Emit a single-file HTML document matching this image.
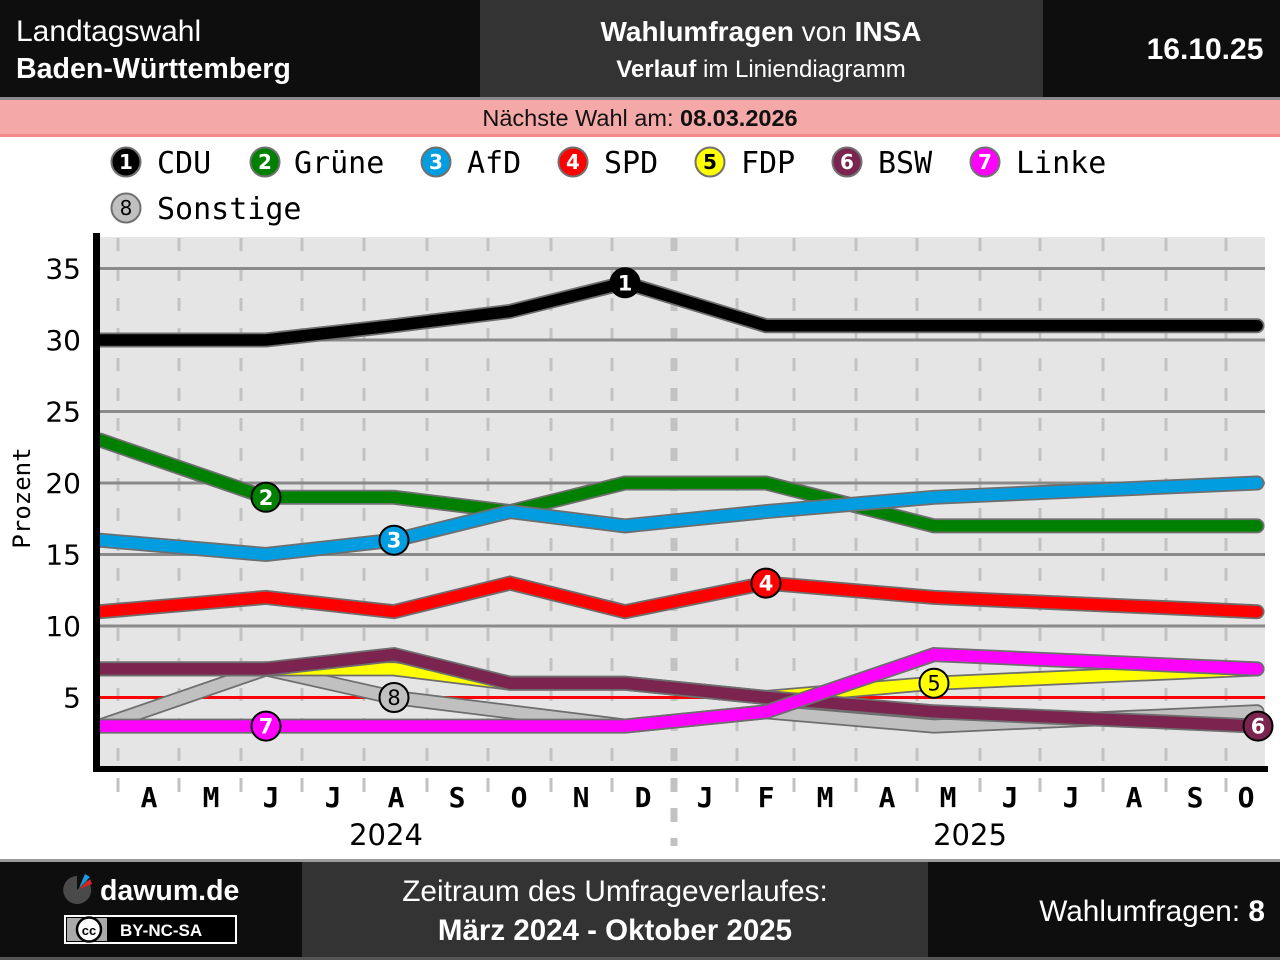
<!DOCTYPE html>
<html><head><meta charset="utf-8">
<style>
html,body{margin:0;padding:0;background:#fff;}
svg{display:block;}
.sans{font-family:"Liberation Sans",Arial,sans-serif;}
.mono{font-family:"DejaVu Sans Mono","Liberation Mono",monospace;}
.dv{font-family:"DejaVu Sans","Liberation Sans",sans-serif;}
</style></head>
<body>
<svg width="1280" height="960" viewBox="0 0 1280 960" xmlns="http://www.w3.org/2000/svg">
<defs>
<clipPath id="pc"><rect x="100" y="237" width="1170" height="532"/></clipPath>
</defs>
<!-- header -->
<rect x="0" y="0" width="1280" height="97" fill="#0e0e0e"/>
<rect x="480" y="0" width="563" height="97" fill="#333333"/>
<rect x="0" y="97" width="1280" height="3" fill="#8a8a8a"/>
<rect x="0" y="100" width="1280" height="35" fill="#f4a8a8"/>
<rect x="0" y="134" width="1280" height="3" fill="#f28888"/>
<g class="sans" fill="#fff">
<text x="16" y="41" font-size="30">Landtagswahl</text>
<text x="16" y="78" font-size="28.6" font-weight="bold">Baden-Württemberg</text>
<text x="761" y="41" font-size="28" text-anchor="middle"><tspan font-weight="bold">Wahlumfragen</tspan> von <tspan font-weight="bold">INSA</tspan></text>
<text x="761" y="77" font-size="24" text-anchor="middle"><tspan font-weight="bold">Verlauf</tspan> im Liniendiagramm</text>
<text x="1205" y="59" font-size="30" font-weight="bold" text-anchor="middle">16.10.25</text>
</g>
<text class="sans" x="640" y="126" font-size="23.5" text-anchor="middle" fill="#111">Nächste Wahl am: <tspan font-weight="bold">08.03.2026</tspan></text>

<!-- legend -->
<g class="mono" font-size="30" fill="#000">
<g stroke="#707070" stroke-width="2">
<circle cx="126" cy="162" r="14.5" fill="#000"/>
<circle cx="265" cy="162" r="14.5" fill="#008000"/>
<circle cx="436" cy="162" r="14.5" fill="#009ee0"/>
<circle cx="573" cy="162" r="14.5" fill="#ff0000"/>
<circle cx="710" cy="162" r="14.5" fill="#ffff00"/>
<circle cx="847" cy="162" r="14.5" fill="#7b2450"/>
<circle cx="985" cy="162" r="14.5" fill="#ff00ff"/>
<circle cx="126" cy="208" r="14.5" fill="#c0c0c0"/>
</g>
<g class="dv" font-size="20" font-weight="bold" text-anchor="middle">
<text x="126" y="169" fill="#fff">1</text>
<text x="265" y="169" fill="#fff">2</text>
<text x="436" y="169" fill="#fff">3</text>
<text x="573" y="169" fill="#fff">4</text>
<text x="710" y="169" fill="#000">5</text>
<text x="847" y="169" fill="#fff">6</text>
<text x="985" y="169" fill="#fff">7</text>
<text x="126" y="215" fill="#000" font-weight="normal">8</text>
</g>
<text x="157" y="173">CDU</text>
<text x="294" y="173">Grüne</text>
<text x="467" y="173">AfD</text>
<text x="604" y="173">SPD</text>
<text x="741" y="173">FDP</text>
<text x="878" y="173">BSW</text>
<text x="1016" y="173">Linke</text>
<text x="157" y="219">Sonstige</text>
</g>

<!-- plot background -->
<rect x="100" y="237" width="1165" height="532" fill="#e5e5e5"/>
<!-- vertical dashed month lines -->
<g stroke="#c2c2c2" stroke-width="3" stroke-dasharray="13 17">
<line x1="118" y1="238" x2="118" y2="768"/>
<line x1="179" y1="238" x2="179" y2="768"/>
<line x1="241" y1="238" x2="241" y2="768"/>
<line x1="302" y1="238" x2="302" y2="768"/>
<line x1="364" y1="238" x2="364" y2="768"/>
<line x1="427" y1="238" x2="427" y2="768"/>
<line x1="488" y1="238" x2="488" y2="768"/>
<line x1="551" y1="238" x2="551" y2="768"/>
<line x1="612" y1="238" x2="612" y2="768"/>
<line x1="737" y1="238" x2="737" y2="768"/>
<line x1="794" y1="238" x2="794" y2="768"/>
<line x1="856" y1="238" x2="856" y2="768"/>
<line x1="917" y1="238" x2="917" y2="768"/>
<line x1="980" y1="238" x2="980" y2="768"/>
<line x1="1040" y1="238" x2="1040" y2="768"/>
<line x1="1103" y1="238" x2="1103" y2="768"/>
<line x1="1166" y1="238" x2="1166" y2="768"/>
<line x1="1226" y1="238" x2="1226" y2="768"/>
<line x1="674" y1="238" x2="674" y2="768" stroke-width="7"/>
</g>
<!-- ticks below axis -->
<g stroke="#c2c2c2" stroke-width="3">
<line x1="118" y1="778" x2="118" y2="792"/>
<line x1="179" y1="778" x2="179" y2="792"/>
<line x1="241" y1="778" x2="241" y2="792"/>
<line x1="302" y1="778" x2="302" y2="792"/>
<line x1="364" y1="778" x2="364" y2="792"/>
<line x1="427" y1="778" x2="427" y2="792"/>
<line x1="488" y1="778" x2="488" y2="792"/>
<line x1="551" y1="778" x2="551" y2="792"/>
<line x1="612" y1="778" x2="612" y2="792"/>
<line x1="737" y1="778" x2="737" y2="792"/>
<line x1="794" y1="778" x2="794" y2="792"/>
<line x1="856" y1="778" x2="856" y2="792"/>
<line x1="917" y1="778" x2="917" y2="792"/>
<line x1="980" y1="778" x2="980" y2="792"/>
<line x1="1040" y1="778" x2="1040" y2="792"/>
<line x1="1103" y1="778" x2="1103" y2="792"/>
<line x1="1166" y1="778" x2="1166" y2="792"/>
<line x1="1226" y1="778" x2="1226" y2="792"/>
<line x1="674" y1="778" x2="674" y2="846" stroke-width="7" stroke-dasharray="14 16"/>
</g>
<!-- horizontal grid -->
<g stroke="#8a8a8a" stroke-width="3">
<line x1="100" y1="268.5" x2="1265" y2="268.5"/>
<line x1="100" y1="340" x2="1265" y2="340"/>
<line x1="100" y1="411.5" x2="1265" y2="411.5"/>
<line x1="100" y1="483" x2="1265" y2="483"/>
<line x1="100" y1="554.5" x2="1265" y2="554.5"/>
<line x1="100" y1="626" x2="1265" y2="626"/>
</g>
<line x1="100" y1="697.5" x2="1265" y2="697.5" stroke="#ff0000" stroke-width="3"/>

<!-- series -->
<g clip-path="url(#pc)" fill="none" stroke-linejoin="miter" stroke-linecap="round">
<polyline points="100,726.1 266,668.9 394,697.5 510,711.8 625,726.1 766,711.8 934,726.1 1257,711.8" stroke="#6e6e6e" stroke-width="15"/>
<polyline points="100,726.1 266,668.9 394,697.5 510,711.8 625,726.1 766,711.8 934,726.1 1257,711.8" stroke="#c0c0c0" stroke-width="11.5"/>
<polyline points="100,668.9 266,668.9 394,668.9 510,683.2 625,683.2 766,697.5 934,683.2 1257,668.9" stroke="#6e6e6e" stroke-width="15"/>
<polyline points="100,668.9 266,668.9 394,668.9 510,683.2 625,683.2 766,697.5 934,683.2 1257,668.9" stroke="#ffff00" stroke-width="11.5"/>
<polyline points="100,668.9 266,668.9 394,654.6 510,683.2 625,683.2 766,697.5 934,711.8 1257,726.1" stroke="#6e6e6e" stroke-width="15"/>
<polyline points="100,668.9 266,668.9 394,654.6 510,683.2 625,683.2 766,697.5 934,711.8 1257,726.1" stroke="#7b2450" stroke-width="11.5"/>
<polyline points="100,611.7 266,597.4 394,611.7 510,583.1 625,611.7 766,583.1 934,597.4 1257,611.7" stroke="#6e6e6e" stroke-width="15"/>
<polyline points="100,611.7 266,597.4 394,611.7 510,583.1 625,611.7 766,583.1 934,597.4 1257,611.7" stroke="#ff0000" stroke-width="11.5"/>
<polyline points="100,440.1 266,497.3 394,497.3 510,511.6 625,483 766,483 934,525.9 1257,525.9" stroke="#6e6e6e" stroke-width="15"/>
<polyline points="100,440.1 266,497.3 394,497.3 510,511.6 625,483 766,483 934,525.9 1257,525.9" stroke="#008000" stroke-width="11.5"/>
<polyline points="100,540.2 266,554.5 394,540.2 510,511.6 625,525.9 766,511.6 934,497.3 1257,483" stroke="#6e6e6e" stroke-width="15"/>
<polyline points="100,540.2 266,554.5 394,540.2 510,511.6 625,525.9 766,511.6 934,497.3 1257,483" stroke="#009ee0" stroke-width="11.5"/>
<polyline points="100,340 266,340 394,325.7 510,311.4 625,282.8 766,325.7 934,325.7 1257,325.7" stroke="#6e6e6e" stroke-width="15"/>
<polyline points="100,340 266,340 394,325.7 510,311.4 625,282.8 766,325.7 934,325.7 1257,325.7" stroke="#000" stroke-width="11.5"/>
<polyline points="100,726.1 266,726.1 394,726.1 510,726.1 625,726.1 766,711.8 934,654.6 1257,668.9" stroke="#6e6e6e" stroke-width="15"/>
<polyline points="100,726.1 266,726.1 394,726.1 510,726.1 625,726.1 766,711.8 934,654.6 1257,668.9" stroke="#ff00ff" stroke-width="11.5"/>
</g>

<!-- series labels -->
<g stroke="#000" stroke-width="2">
<circle cx="625" cy="282.8" r="14.5" fill="#000"/>
<circle cx="266" cy="497.3" r="14.5" fill="#008000"/>
<circle cx="394" cy="540.2" r="14.5" fill="#009ee0"/>
<circle cx="766" cy="583.1" r="14.5" fill="#ff0000"/>
<circle cx="934" cy="683.2" r="14.5" fill="#ffff00"/>
<circle cx="1258" cy="726.1" r="14.5" fill="#7b2450"/>
<circle cx="266" cy="726.1" r="14.5" fill="#ff00ff"/>
<circle cx="394" cy="697.5" r="14.5" fill="#c0c0c0"/>
</g>
<g class="dv" font-size="21" text-anchor="middle" font-weight="bold">
<text x="625" y="290.3" fill="#fff">1</text>
<text x="266" y="504.8" fill="#fff">2</text>
<text x="394" y="547.7" fill="#fff">3</text>
<text x="766" y="590.6" fill="#fff">4</text>
<text x="934" y="690.7" fill="#000" font-weight="normal">5</text>
<text x="1258" y="733.6" fill="#fff">6</text>
<text x="266" y="733.6" fill="#fff">7</text>
<text x="394" y="705" fill="#000" font-weight="normal">8</text>
</g>

<!-- axes -->
<rect x="93" y="233" width="7" height="539" fill="#000"/>
<rect x="93" y="766" width="1175" height="6" fill="#000"/>

<!-- y tick labels -->
<g class="dv" font-size="28" fill="#000" text-anchor="end">
<text x="81" y="278.5">35</text>
<text x="81" y="350">30</text>
<text x="81" y="421.5">25</text>
<text x="81" y="493">20</text>
<text x="81" y="564.5">15</text>
<text x="81" y="636">10</text>
<text x="81" y="707.5">5</text>
</g>
<text class="mono" font-size="24" fill="#000" text-anchor="middle" transform="translate(30,498) rotate(-90)">Prozent</text>

<!-- month labels -->
<g class="mono" font-size="28" font-weight="bold" fill="#000" text-anchor="middle">
<text x="149" y="807">A</text>
<text x="211" y="807">M</text>
<text x="271" y="807">J</text>
<text x="333" y="807">J</text>
<text x="396" y="807">A</text>
<text x="457" y="807">S</text>
<text x="519" y="807">O</text>
<text x="581" y="807">N</text>
<text x="643" y="807">D</text>
<text x="705" y="807">J</text>
<text x="766" y="807">F</text>
<text x="825" y="807">M</text>
<text x="887" y="807">A</text>
<text x="948" y="807">M</text>
<text x="1010" y="807">J</text>
<text x="1071" y="807">J</text>
<text x="1134" y="807">A</text>
<text x="1195" y="807">S</text>
<text x="1246" y="807">O</text>
</g>
<g class="dv" font-size="29" fill="#000" text-anchor="middle">
<text x="386" y="845">2024</text>
<text x="970" y="845">2025</text>
</g>

<!-- footer -->
<rect x="0" y="859" width="1280" height="3" fill="#9a9a9a"/>
<rect x="0" y="862" width="1280" height="98" fill="#0e0e0e"/>
<rect x="302" y="862" width="626" height="98" fill="#333333"/>
<rect x="0" y="957" width="1280" height="3" fill="#555"/>
<path d="M77,890 L87,880 A14,14 0 1 1 77,876 Z" fill="#4a4a4a"/>
<path d="M79,888 L85,874 L90,877 Z" fill="#1a9be0"/>
<path d="M79,889 L90,879 L92,884 Z" fill="#e02020"/>
<text class="sans" x="100" y="900" font-size="28.5" font-weight="bold" fill="#fff">dawum.de</text>
<rect x="65" y="916" width="171" height="27" fill="#000" stroke="#fff" stroke-width="2"/>
<rect x="67" y="918" width="40" height="23" fill="#aaa"/>
<circle cx="89" cy="929.5" r="12" fill="#fff" stroke="#000" stroke-width="2.5"/>
<text class="sans" x="89" y="935" font-size="13" font-weight="bold" fill="#000" text-anchor="middle">cc</text>
<text class="sans" x="120" y="936" font-size="17" font-weight="bold" fill="#fff">BY-NC-SA</text>
<g class="sans" fill="#fff" text-anchor="middle">
<text x="615" y="901" font-size="29.8">Zeitraum des Umfrageverlaufes:</text>
<text x="615" y="940" font-size="29.5" font-weight="bold">März 2024 - Oktober 2025</text>
</g>
<text class="sans" x="1265" y="921" font-size="29.8" fill="#fff" text-anchor="end">Wahlumfragen: <tspan font-weight="bold">8</tspan></text>
</svg>
</body></html>
